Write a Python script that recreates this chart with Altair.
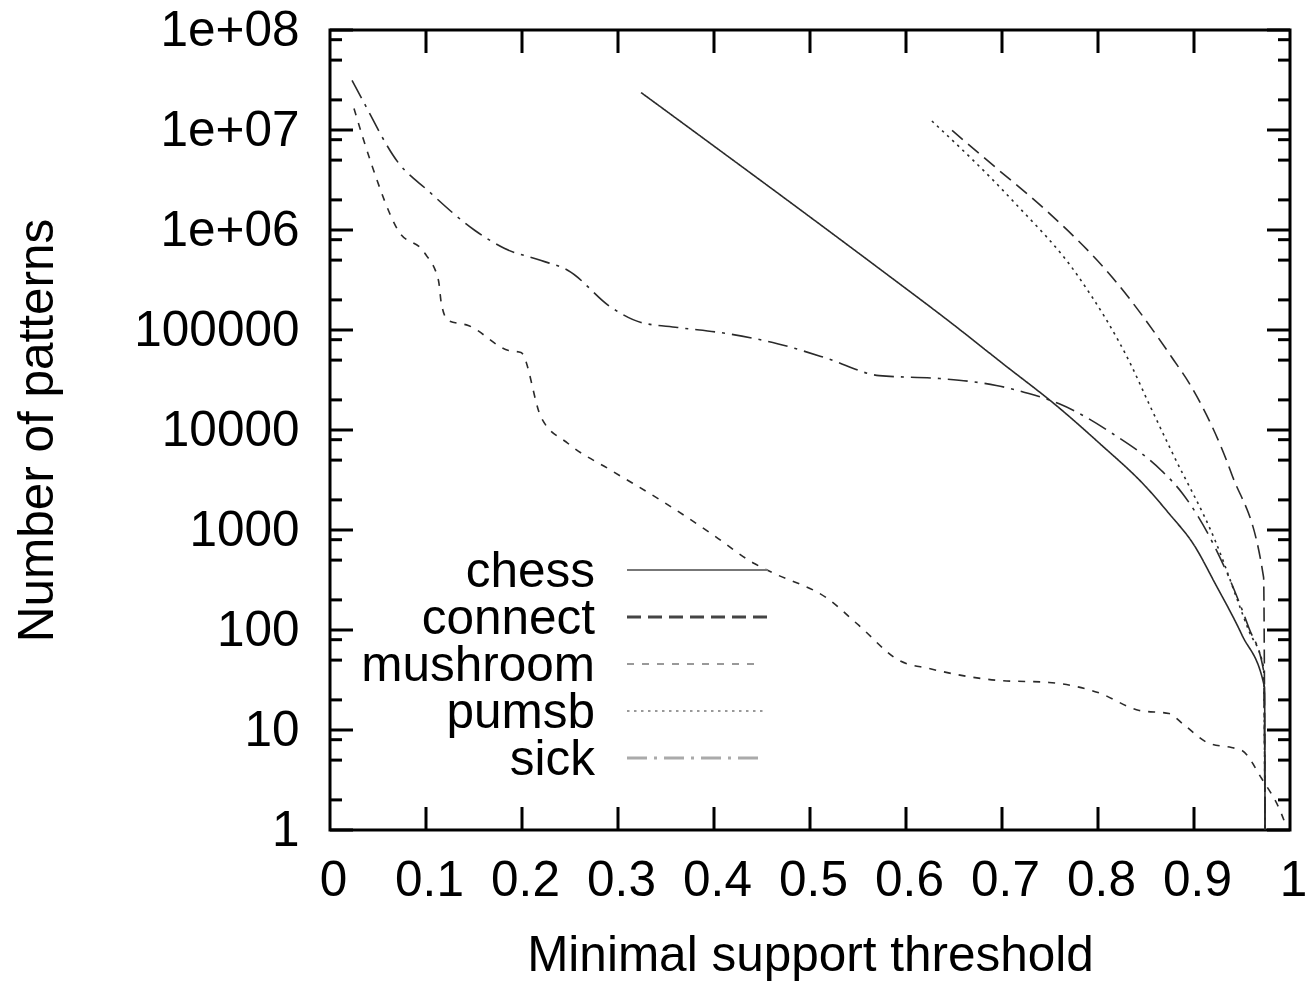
import altair as alt
import pandas as pd
import json

# ---------------- data ----------------
SERIES = ["chess", "connect", "mushroom", "pumsb", "sick"]

chess_x = [0.324, 0.4, 0.5, 0.572, 0.65, 0.7, 0.759, 0.8, 0.853, 0.874, 0.9, 0.922, 0.95, 0.9735, 0.974]
chess_y = [2.37e7, 6.9e6, 1.35e6, 4.12e5, 1.12e5, 4.68e4, 1.68e4, 7590, 2510, 1460, 708, 292, 89, 26.6, 1]

connect_x = [0.648, 0.694, 0.746, 0.815, 0.877, 0.898, 0.939, 0.9725, 0.974]
connect_y = [9.89e6, 4.17e6, 1.57e6, 3.35e5, 5.31e4, 2.63e4, 3670, 335, 1]

mushroom_x = [0.025, 0.043, 0.071, 0.099, 0.113, 0.116, 0.123, 0.144, 0.186, 0.199, 0.22, 0.248,
              0.293, 0.345, 0.397, 0.442, 0.463, 0.518, 0.551, 0.593, 0.624, 0.697, 0.749, 0.8,
              0.843, 0.874, 0.888, 0.916, 0.939, 0.95, 0.9705, 0.991, 0.995]
mushroom_y = [1.64e7, 4.62e6, 9.89e5, 5.82e5, 3.13e5, 1.84e5, 1.245e5, 1.11e5, 6.24e4, 5.96e4, 1.33e4, 7330,
              3940, 1970, 923, 462, 367, 207, 111, 49.5, 41.2, 31.3, 29.9, 23.7,
              15.7, 14.6, 11.6, 7.33, 6.68, 6.24, 3.27, 1.46, 1.16]

pumsb_x = [0.627, 0.711, 0.78, 0.8355, 0.853, 0.877, 0.922, 0.957, 0.9725, 0.974]
pumsb_y = [1.23e7, 1.97e6, 3.37e5, 4.25e4, 1.84e4, 6030, 785, 99, 42, 1]

sick_x = [0.023, 0.033, 0.071, 0.102, 0.151, 0.182, 0.22, 0.248, 0.293, 0.324, 0.362, 0.414, 0.466,
          0.518, 0.572, 0.635, 0.694, 0.728, 0.759, 0.815, 0.866, 0.888, 0.922, 0.957, 0.9725, 0.974]
sick_y = [3.13e7, 2.07e7, 4.73e6, 2.48e6, 9.89e5, 6.53e5, 4.95e5, 3.94e5, 1.68e5, 1.19e5, 1.06e5, 9.2e4, 7.3e4,
          5.2e4, 3.5e4, 3.27e4, 2.79e4, 2.32e4, 1.84e4, 9220, 3940, 2320, 668, 106, 39, 1]

X_TICKS = [0, 0.1, 0.2, 0.3, 0.4, 0.5, 0.6, 0.7, 0.8, 0.9, 1]
X_TICK_LABELS = ["0", "0.1", "0.2", "0.3", "0.4", "0.5", "0.6", "0.7", "0.8", "0.9", "1"]
Y_TICKS = [1, 10, 100, 1000, 10000, 100000, 1e6, 1e7, 1e8]
Y_TICK_LABELS = ["1", "10", "100", "1000", "10000", "100000", "1e+06", "1e+07", "1e+08"]
Y_MINOR = [m * 10 ** k for k in range(8) for m in (2, 5, 8)]

# ---------------- styling ----------------
W, H = 960, 800
FONT = "Liberation Sans"
FS = 49.5
LINE_COLOR = "#2a2a2a"
DASHES = [[1, 0], [14, 7], [7, 8], [2.5, 4.5], [20, 7, 3, 7]]
LEGEND_COLORS = ["#777777", "#444444", "#999999", "#999999", "#aaaaaa"]
LEGEND_WIDTHS = [2.2, 3, 2.2, 2.2, 3]
LEGEND_ENDS = [438, 438, 428, 433, 435]
LEGEND_ROWS = [540, 587, 634, 681, 728]

rows = []
for name, xs, ys in [("chess", chess_x, chess_y), ("connect", connect_x, connect_y),
                     ("mushroom", mushroom_x, mushroom_y), ("pumsb", pumsb_x, pumsb_y),
                     ("sick", sick_x, sick_y)]:
    for i, (a, b) in enumerate(zip(xs, ys)):
        rows.append({"series": name, "x": a, "y": b, "order": i})
df = pd.DataFrame(rows)

xscale = alt.Scale(domain=[0, 1], nice=False, zero=False)
yscale = alt.Scale(type="log", domain=[1, 1e8], nice=False)

x_label_expr = json.dumps(X_TICK_LABELS) + "[round(datum.value*10)]"
y_label_expr = json.dumps(Y_TICK_LABELS) + "[round(log(datum.value)/LN10)]"

x_axis = alt.Axis(values=X_TICKS, labelExpr=x_label_expr, ticks=False, domain=False, grid=False,
                  labelFont=FONT, labelFontSize=FS, labelColor="black", labelPadding=26,
                  labelFlush=False, labelOffset=3, title="Minimal support threshold", titleFont=FONT,
                  titleFontSize=FS, titleFontWeight="normal", titleColor="black",
                  titleBaseline="alphabetic", titleY=140)
y_axis = alt.Axis(values=Y_TICKS, labelExpr=y_label_expr, ticks=False, domain=False, grid=False,
                  labelFont=FONT, labelFontSize=FS, labelColor="black", labelPadding=31,
                  labelFlush=False, labelBaseline="middle", title="Number of patterns",
                  titleFont=FONT, titleFontSize=FS, titleFontWeight="normal", titleColor="black",
                  titleBaseline="alphabetic", titleAngle=270, titleX=-278, titleY=H / 2,
                  titleAlign="center")

X_ENC = dict(scale=xscale, axis=x_axis, title="Minimal support threshold")
Y_ENC = dict(scale=yscale, axis=y_axis, title="Number of patterns")

lines = alt.Chart(df).mark_line(strokeWidth=1.6, color=LINE_COLOR, clip=True,
                                interpolate="monotone").encode(
    x=alt.X("x:Q", **X_ENC),
    y=alt.Y("y:Q", **Y_ENC),
    strokeDash=alt.StrokeDash("series:N", scale=alt.Scale(domain=SERIES, range=DASHES), legend=None),
    detail="series:N",
    order="order:Q",
)

# tick marks pointing inwards on all four sides
ymaj = pd.DataFrame({"y": Y_TICKS})
ymin = pd.DataFrame({"y": Y_MINOR})
xmaj = pd.DataFrame({"x": X_TICKS[1:-1]})

def yticks(data, length):
    left = alt.Chart(data).mark_rule(color="black", strokeWidth=3).encode(
        y=alt.Y("y:Q", **Y_ENC), x=alt.value(0), x2=alt.value(length))
    right = alt.Chart(data).mark_rule(color="black", strokeWidth=3).encode(
        y=alt.Y("y:Q", **Y_ENC), x=alt.value(W - length), x2=alt.value(W))
    return [left, right]

def xticks(data, length):
    bottom = alt.Chart(data).mark_rule(color="black", strokeWidth=3).encode(
        x=alt.X("x:Q", **X_ENC), y=alt.value(H - length), y2=alt.value(H))
    top = alt.Chart(data).mark_rule(color="black", strokeWidth=3).encode(
        x=alt.X("x:Q", **X_ENC), y=alt.value(0), y2=alt.value(length))
    return [bottom, top]

tick_layers = yticks(ymaj, 23) + yticks(ymin, 12) + xticks(xmaj, 23)

# legend (inside the plot, labels left of samples)
legend_layers = []
for i, name in enumerate(SERIES):
    ldf = pd.DataFrame({"series": [name]})
    legend_layers.append(
        alt.Chart(ldf).mark_text(align="right", baseline="middle", font=FONT, fontSize=FS,
                                 color="black", dy=2).encode(
            text="series:N", x=alt.value(265), y=alt.value(LEGEND_ROWS[i])))
    legend_layers.append(
        alt.Chart(ldf).mark_rule(color=LEGEND_COLORS[i], strokeWidth=LEGEND_WIDTHS[i],
                                 strokeDash=DASHES[i]).encode(
            x=alt.value(297), x2=alt.value(LEGEND_ENDS[i]), y=alt.value(LEGEND_ROWS[i])))

chart = alt.layer(lines, *tick_layers, *legend_layers).properties(
    width=W, height=H,
    autosize=alt.AutoSizeParams(type="none"),
    padding={"left": 330, "top": 30, "right": 26, "bottom": 153},
    background="white",
).configure_view(stroke="black", strokeWidth=3)

chart.save("out.html", embed_options={"renderer": "svg", "actions": False})
